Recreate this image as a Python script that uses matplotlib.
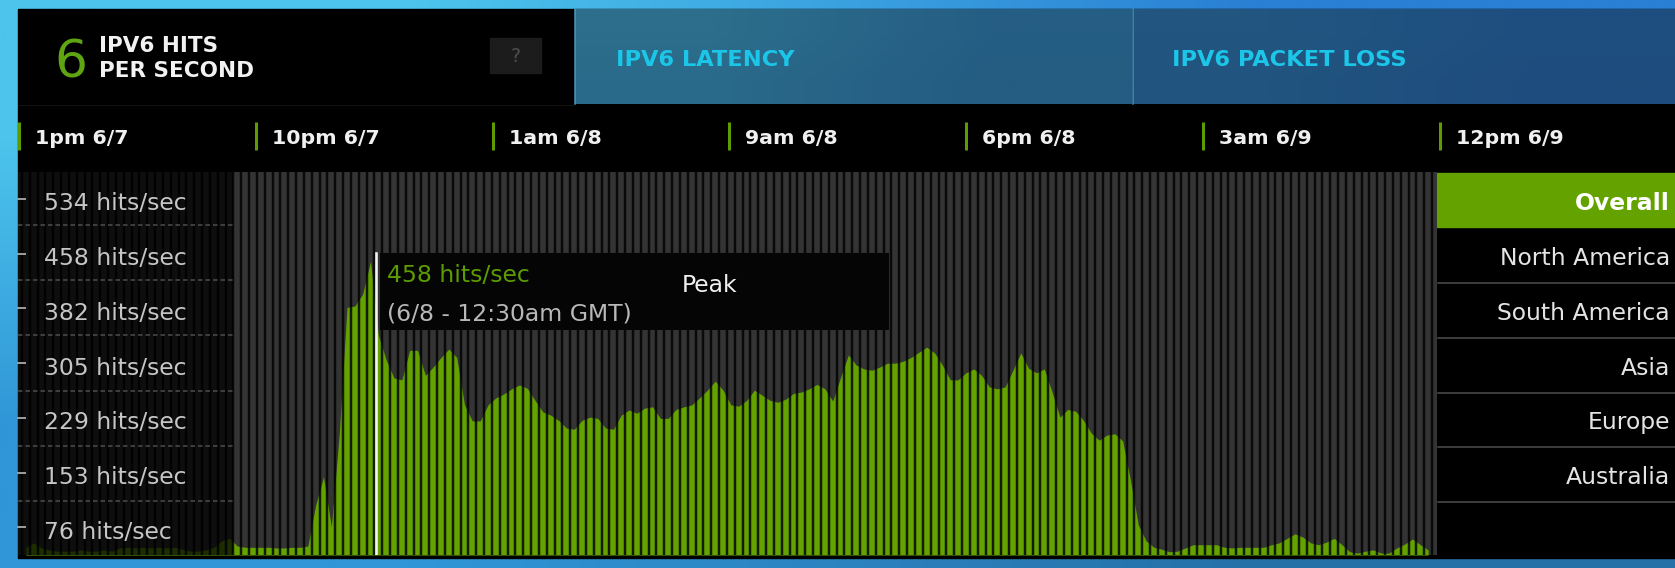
import numpy as np
import matplotlib
matplotlib.use("Agg")
import matplotlib.pyplot as plt
from matplotlib.patches import Rectangle

# ---------------- data ----------------
hits = [12, 19, 11, 8, 6, 6, 6, 8, 6, 6,
        8, 6, 11, 12, 11, 12, 11, 12, 11, 12,
        9, 6, 6, 8, 12, 22, 26, 14, 12, 12,
        12, 12, 11, 11, 12, 12, 14, 78, 122, 44,
        187, 386, 388, 407, 458, 343, 304, 276, 273, 319,
        319, 280, 293, 308, 321, 308, 234, 209, 209, 234,
        245, 251, 259, 265, 260, 241, 223, 218, 210, 198,
        196, 210, 215, 213, 198, 196, 218, 226, 221, 229,
        231, 213, 213, 227, 231, 234, 245, 257, 271, 257,
        234, 232, 241, 257, 249, 241, 238, 243, 252, 254,
        259, 266, 259, 240, 277, 312, 296, 290, 288, 293,
        299, 299, 302, 308, 316, 324, 315, 296, 273, 273,
        284, 290, 280, 262, 259, 262, 288, 315, 291, 284,
        290, 254, 215, 227, 224, 210, 190, 179, 187, 189,
        178, 117, 47, 22, 12, 9, 5, 6, 11, 16,
        16, 16, 16, 12, 11, 12, 12, 12, 12, 16,
        19, 26, 33, 28, 19, 16, 20, 26, 16, 5,
        3, 6, 8, 3, 3, 11, 17, 25, 16, 8]
y_labels = [534, 458, 382, 305, 229, 153, 76]
time_labels = ["1pm 6/7", "10pm 6/7", "1am 6/8", "9am 6/8", "6pm 6/8", "3am 6/9", "12pm 6/9"]
regions = ["Overall", "North America", "South America", "Asia", "Europe", "Australia"]
tab_titles = ["IPV6 LATENCY", "IPV6 PACKET LOSS"]
current_hits = 6
peak_label = "Peak"
peak_time = "(6/8 - 12:30am GMT)"

# ---------------- style ----------------
W, H = 1675, 568
GREEN = "#64a200"
plt.rcParams['font.family'] = ['DejaVu Sans']


def pt(p):
    return p * 0.72


fig = plt.figure(figsize=(W / 100, H / 100), dpi=100)

# ---------- background canvas (pixel coordinates) ----------
bg = fig.add_axes([0, 0, 1, 1])
bg.axis('off')


def grad(ax, x0, x1, y0, y1, tl, tr, bl, br, z=0):
    arr = np.array([[tl, tr], [bl, br]], dtype=float) / 255.0
    ax.imshow(arr, extent=(x0, x1, y1, y0), interpolation='bilinear',
              aspect='auto', zorder=z)


grad(bg, 0, W, 0, H, (76, 196, 236), (42, 128, 212), (48, 150, 215), (38, 112, 168))
bg.add_patch(Rectangle((18, 9), W - 18, 549, color='black', zorder=1))
grad(bg, 575, 1132, 9, 104, (44, 110, 140), (37, 94, 132), (42, 106, 138), (36, 92, 130), z=2)
grad(bg, 1133, W, 9, 104, (34, 86, 128), (30, 78, 128), (33, 84, 126), (30, 76, 126), z=2)
bg.plot([574.5, 574.5], [9, 104], color=(0.30, 0.60, 0.76), lw=pt(1.5), zorder=3)
bg.plot([1132.5, 1132.5], [9, 104], color=(0.25, 0.56, 0.76), lw=pt(1.5), zorder=3)
bg.plot([18, 574], [104.5, 104.5], color='#121212', lw=pt(1), zorder=3)

# header
bg.text(71, 78, str(current_hits), color="#5fa512", fontsize=pt(52), ha='center',
        va='baseline', zorder=4)
bg.text(99, 52, "IPV6 HITS", color='#f2f2f2', fontsize=pt(21.5), fontweight='bold',
        va='baseline', zorder=4)
bg.text(99, 77, "PER SECOND", color='#f2f2f2', fontsize=pt(21.5), fontweight='bold',
        va='baseline', zorder=4)
bg.add_patch(Rectangle((490, 38), 51, 35, color='#1c1c1c', zorder=3))
bg.text(515.5, 56, "?", color='#4e4e4e', fontsize=pt(19), ha='center', va='center', zorder=4)
for x, t in zip([616, 1172], tab_titles):
    bg.text(x, 66.5, t, color='#1cc6e8', fontsize=pt(22.5), fontweight='bold',
            va='baseline', zorder=4)

# time axis row
for k, lab in enumerate(time_labels):
    tx = 19 + k * 236.8
    bg.plot([tx, tx], [122, 150], color='#5c9c00', lw=pt(3), solid_capstyle='butt', zorder=4)
    bg.text(tx + 16, 143.5, lab, color='#f0f0f0', fontsize=pt(20.5), fontweight='bold',
            va='baseline', zorder=4)

# right region panel
bg.add_patch(Rectangle((1437, 173), W - 1437, 54, color=GREEN, zorder=3))
for k, r in enumerate(regions):
    cy = 202 + 54.7 * k
    bg.text(1670, cy + 8.5, r, color='white' if k == 0 else '#e4e4e4',
            fontsize=pt(23.5), fontweight='bold' if k == 0 else 'normal',
            ha='right', va='baseline', zorder=4)
    if k >= 1:
        bg.plot([1438, W], [cy + 26.5, cy + 26.5], color='#4a4a4a', lw=pt(1.6), zorder=4)

bg.set_xlim(0, W)
bg.set_ylim(H, 0)

# ---------- chart axes (data coordinates) ----------
N = len(hits)
ax = fig.add_axes([18 / W, (H - 555) / H, 1419 / W, 383 / H])
ax.set_facecolor('#343434')
for s in ax.spines.values():
    s.set_visible(False)
ax.set_xticks([])
ax.set_yticks([])
x = np.arange(N)
ax.fill_between(x, 0, hits, color=GREEN, lw=0, zorder=2)
ax.vlines(np.arange(-1.5, N + 0.5, 1), 0, 600, color='black', alpha=0.82, lw=pt(2.5), zorder=3)
peak_i = int(np.argmax(hits))
ax.axvline(peak_i + 0.7, ymin=0, ymax=(555 - 253) / 383, color='#f4f4f4', lw=pt(2.6), zorder=5)
ax.set_xlim(-0.996, 180.13)
ax.set_ylim(0, 597)

# ---------- overlay (pixel coordinates) ----------
ov = fig.add_axes([0, 0, 1, 1], facecolor='none')
ov.axis('off')
ov.add_patch(Rectangle((18, 172), 215, 383, color='black', alpha=0.72, lw=0))
for k in range(6):
    yy = 225 + k * 55.2
    ov.plot([18, 233], [yy, yy], color='#4f4f4f', lw=pt(1.5), ls=(0, (3, 2)))
for k, v in enumerate(y_labels):
    cy = 202 + 54.7 * k
    ov.plot([18, 25], [cy - 3, cy - 3], color='#9a9a9a', lw=pt(2))
    ov.text(44, cy + 8.5, f"{v} hits/sec", color='#c6c6c6', fontsize=pt(23.5), va='baseline')

# tooltip
ov.add_patch(Rectangle((380, 253), 509, 77, color='#050505', lw=0))
ov.text(387, 281.5, f"{max(hits)} hits/sec", color='#5c9c00', fontsize=pt(23.5), va='baseline')
ov.text(387, 320.5, peak_time, color='#b8b8b8', fontsize=pt(23.5), va='baseline')
ov.text(682, 291.5, peak_label, color='#f0f0f0', fontsize=pt(23.5), va='baseline')
ov.set_xlim(0, W)
ov.set_ylim(H, 0)

fig.savefig("out.png", dpi=100, facecolor='black')
